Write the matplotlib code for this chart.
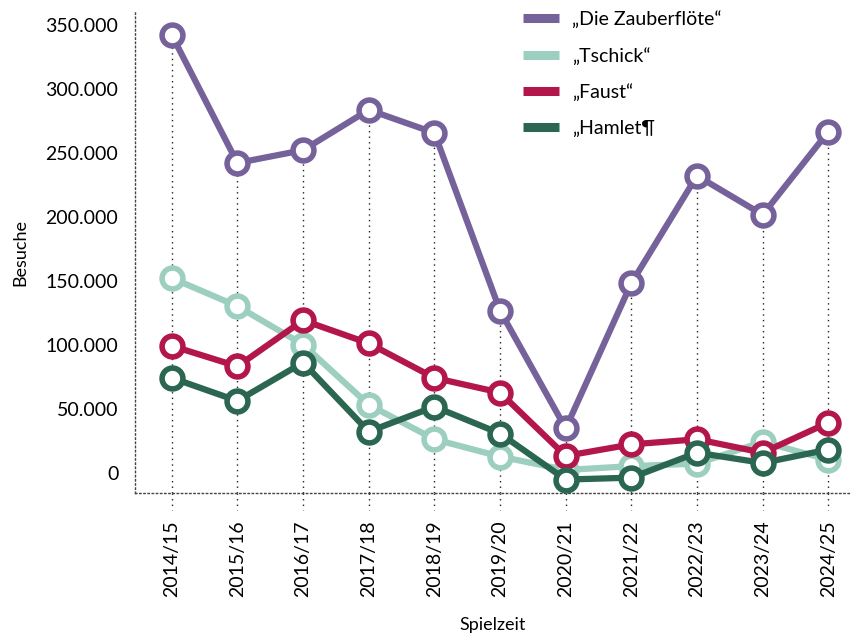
import matplotlib
matplotlib.use("Agg")
from matplotlib import pyplot as plt
from matplotlib import ticker

plt.rcParams['font.family'] = ['Lato', 'DejaVu Sans']

# Spielzeiten und Besuche je Stück
seasons = ["2014/15", "2015/16", "2016/17", "2017/18", "2018/19", "2019/20",
           "2020/21", "2021/22", "2022/23", "2023/24", "2024/25"]
zauberfloete = [342000, 242000, 252000, 283500, 265500, 126500, 34500, 148000, 232000, 201500, 266500]
tschick = [152000, 130000, 100000, 53000, 26000, 12500, 2000, 5000, 7000, 24000, 10000]
faust = [99000, 83000, 119000, 101000, 74000, 62500, 13000, 22000, 26000, 15500, 39000]
hamlet = [74000, 56000, 86000, 32000, 51500, 30500, -5500, -4000, 15500, 7500, 18000]

series = [
    ("„Die Zauberflöte“", zauberfloete, "#76629a"),
    ("„Tschick“", tschick, "#9dcfc0"),
    ("„Faust“", faust, "#b3164b"),
    ("„Hamlet¶", hamlet, "#2a6650"),
]

fig = plt.figure(figsize=(8.57, 6.33), dpi=100)
ax = fig.add_axes([135 / 857, 1 - 493 / 633, 715 / 857, 481 / 633])

x = list(range(len(seasons)))
ymin, ymax = -16000, 360000

# gepunktete Fallinien vom höchsten Punkt bis unter die Achse
tops = [max(v) for v in zip(zauberfloete, tschick, faust, hamlet)]
ax.vlines(x, ymin, tops, colors="#222222", linestyles=(0, (1, 3)), linewidth=1, zorder=1)
for xi in x:
    ax.plot([xi, xi], [0, -0.035], transform=ax.get_xaxis_transform(),
            color="#222222", linestyle=(0, (1, 3)), linewidth=1, clip_on=False)

for i, (name, vals, col) in enumerate(series):
    ax.plot(x, vals, color=col, linewidth=4.5, marker="o", markersize=15,
            markerfacecolor="white", markeredgecolor=col, markeredgewidth=4,
            label=name, zorder=3 + i)

ax.set_xlim(-0.56, 10.33)
ax.set_ylim(ymin, ymax)
ax.set_xticks(x)
ax.set_xticklabels(seasons, rotation=90, fontsize=14)
ax.set_yticks(range(0, 350001, 50000))
ax.yaxis.set_major_formatter(ticker.FuncFormatter(lambda v, p: f"{int(v):,}".replace(",", ".")))
ax.tick_params(axis="y", labelsize=14, length=0, pad=12)
ax.tick_params(axis="x", length=0, pad=20)

for s in ["top", "right"]:
    ax.spines[s].set_visible(False)
for s in ["left", "bottom"]:
    ax.spines[s].set_linestyle((0, (1, 2)))
    ax.spines[s].set_linewidth(1)
    ax.spines[s].set_color("#444444")

ax.set_xlabel("Spielzeit", fontsize=13, labelpad=14)
ax.set_ylabel("Besuche", fontsize=13, labelpad=12)

leg = ax.legend(loc="upper left", bbox_to_anchor=(0.518, 1.04), frameon=False,
                fontsize=14, handlelength=1.85, labelspacing=0.95, handletextpad=0.7)
for h in leg.get_lines():
    h.set_marker("")
    h.set_linewidth(6.5)
    h.set_solid_capstyle("butt")

fig.savefig("out.png", dpi=100)
